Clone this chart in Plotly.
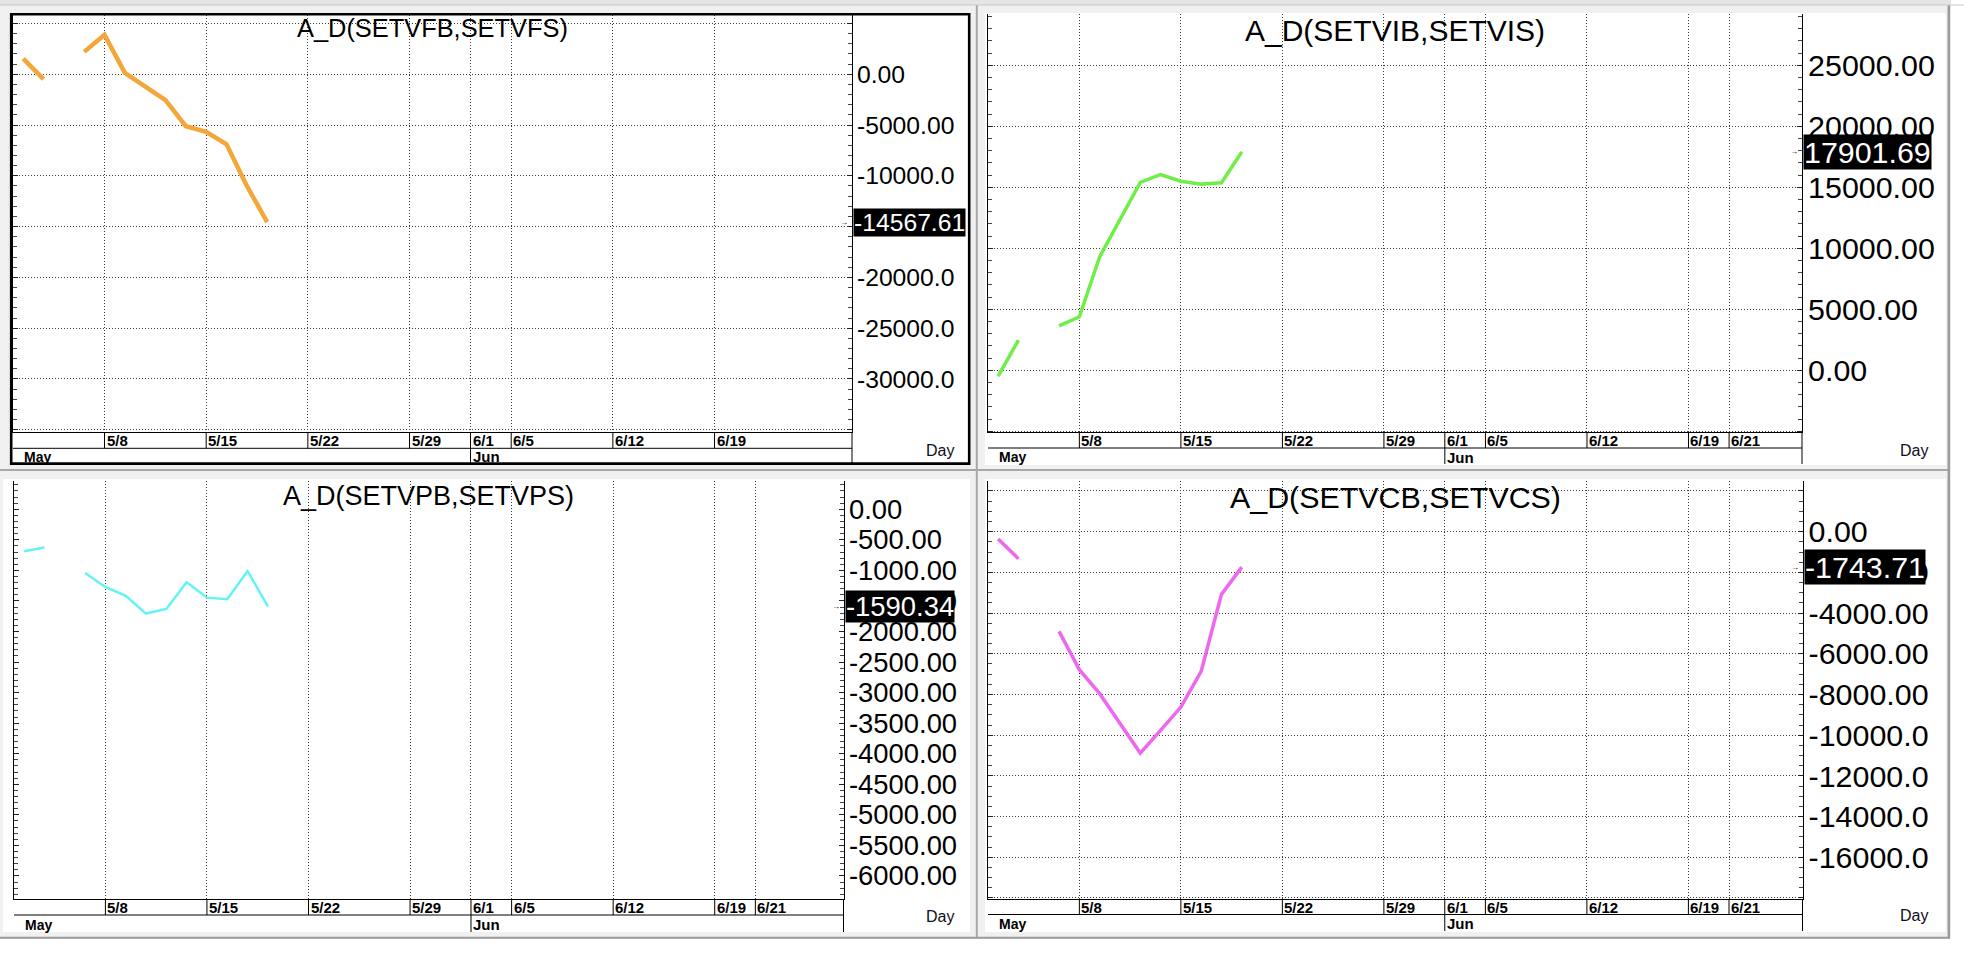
import plotly.graph_objects as go

# ---------------- data ----------------
dates = ["2023-05-02", "2023-05-03", "2023-05-04", "2023-05-05", "2023-05-08",
         "2023-05-09", "2023-05-10", "2023-05-11", "2023-05-12", "2023-05-15",
         "2023-05-16", "2023-05-17", "2023-05-18"]

ad_vf = [1540, -490, None, 2200, 3875, 130, -1180, -2560, -5120, -5680, -6900, -11000, -14567.61]
ad_vi = [-490, 2460, None, 3640, 4380, 9300, 12300, 15400, 16050, 15500, 15260, 15370, 17901.69]
ad_vp = [-687, -627, None, -1042, -1271, -1418, -1707, -1631, -1195, -1446, -1473, -1009, -1590.34]
ad_vc = [-360, -1330, None, -4900, -6780, -7960, -9430, -10880, -9760, -8620, -6860, -3080, -1743.71]

titles = ["A_D(SETVFB,SETVFS)", "A_D(SETVIB,SETVIS)", "A_D(SETVPB,SETVPS)", "A_D(SETVCB,SETVCS)"]
last_labels = ["-14567.61", "17901.69", "-1590.34", "-1743.71"]

p1_tickvals = [5000, 0, -5000, -10000, -15000, -20000, -25000, -30000, -35000]
p1_ticktext = ["", "0.00", "-5000.00", "-10000.0", "-15000.0", "-20000.0", "-25000.0", "-30000.0", ""]
p2_tickvals = [25000, 20000, 15000, 10000, 5000, 0, -5000]
p2_ticktext = ["25000.00", "20000.00", "15000.00", "10000.00", "5000.00", "0.00", ""]
p3_tickvals = [0, -500, -1000, -1500, -2000, -2500, -3000, -3500, -4000, -4500, -5000, -5500, -6000]
p3_ticktext = ["0.00", "-500.00", "-1000.00", "-1500.00", "-2000.00", "-2500.00", "-3000.00",
               "-3500.00", "-4000.00", "-4500.00", "-5000.00", "-5500.00", "-6000.00"]
p3_gridvals = [0, -1000, -2000, -3000, -4000, -5000, -6000]
p4_tickvals = [2000, 0, -2000, -4000, -6000, -8000, -10000, -12000, -14000, -16000, -18000]
p4_ticktext = ["", "0.00", "-2000.00", "-4000.00", "-6000.00", "-8000.00", "-10000.0",
               "-12000.0", "-14000.0", "-16000.0", ""]

day_ticks_a = ["2023-05-08", "2023-05-15", "2023-05-22", "2023-05-29", "2023-06-01",
               "2023-06-05", "2023-06-12", "2023-06-19"]
day_text_a = ["5/8", "5/15", "5/22", "5/29", "6/1", "6/5", "6/12", "6/19"]
day_ticks_b = day_ticks_a + ["2023-06-21"]
day_text_b = day_text_a + ["6/21"]
month_start = "2023-06-01"
month_names = ["May", "Jun"]

# ---------------- layout geometry ----------------
W, H = 1964, 954
def px(x): return x / W
def py(y): return 1 - y / H

FONT = "Liberation Sans, Arial, sans-serif"
DFONT = "Liberation Sans Narrow, Arial Narrow, Liberation Sans, Arial, sans-serif"
GRID = "#3a3a3a"
DOT = "1px,2px"

panels = [
    dict(series=ad_vf, color="#F3A73B", lw=4.5, x0=13, x1=852, yt=15.3, yb=432.3, r1=448.3, r2=463.3,
         xr=["2023-05-01 12:00", "2023-06-27 18:14"], yr=[-35250, 5800], fs=24.7, tfs=25.4, tty=28.0,
         tv=p1_tickvals, tt=p1_ticktext, minor=1000, dt=day_ticks_a, dx=day_text_a, day=(940, 450)),
    dict(series=ad_vi, color="#70EE48", lw=3.5, x0=988, x1=1802, yt=14.0, yb=432.3, r1=448.0, r2=464.0,
         xr=["2023-05-01 12:00", "2023-06-26 14:10"], yr=[-5090, 29210], fs=30.4, tfs=30.0, tty=30.2,
         tv=p2_tickvals, tt=p2_ticktext, minor=1000, dt=day_ticks_b, dx=day_text_b, day=(1914, 450)),
    dict(series=ad_vp, color="#62F4F4", lw=2.5, x0=14, x1=843.5, yt=481.0, yb=899.0, r1=915.0, r2=932.0,
         xr=["2023-05-01 12:00", "2023-06-27 08:10"], yr=[-6378, 463], fs=27.4, tfs=27.0, tty=495.8,
         tv=p3_tickvals, tt=p3_ticktext, minor=100, dt=day_ticks_b, dx=day_text_b, day=(940, 916)),
    dict(series=ad_vc, color="#EE68EE", lw=3.5, x0=988, x1=1802.5, yt=481.0, yb=899.0, r1=914.5, r2=931.0,
         xr=["2023-05-01 12:00", "2023-06-26 14:53"], yr=[-18050, 2490], fs=30.4, tfs=30.4, tty=497.2,
         tv=p4_tickvals, tt=p4_ticktext, minor=500, dt=day_ticks_b, dx=day_text_b, day=(1914, 915.5)),
]

fig = go.Figure()
layout = dict(width=W, height=H, margin=dict(l=0, r=0, t=0, b=0),
              paper_bgcolor="#f0f0f0", plot_bgcolor="white", showlegend=False)
shapes = []
annotations = []

# window backgrounds / frames
shapes += [
    dict(type="rect", xref="paper", yref="paper", x0=0, x1=1, y0=py(5), y1=1,
         fillcolor="#e4e4e4", line=dict(width=0), layer="below"),
    dict(type="rect", xref="paper", yref="paper", x0=0, x1=1, y0=0, y1=py(939),
         fillcolor="white", line=dict(width=0), layer="below"),
    dict(type="rect", xref="paper", yref="paper", x0=px(1951), x1=1, y0=0, y1=1,
         fillcolor="white", line=dict(width=0), layer="below"),
    dict(type="rect", xref="paper", yref="paper", x0=px(11), x1=px(969), y0=py(463.5), y1=py(14),
         fillcolor="white", line=dict(width=0), layer="below"),
    dict(type="rect", xref="paper", yref="paper", x0=px(985), x1=px(1946), y0=py(465), y1=py(13),
         fillcolor="white", line=dict(width=0), layer="below"),
    dict(type="rect", xref="paper", yref="paper", x0=px(3), x1=px(970), y0=py(932), y1=py(479),
         fillcolor="white", line=dict(width=0), layer="below"),
    dict(type="rect", xref="paper", yref="paper", x0=px(985), x1=px(1946), y0=py(932), y1=py(479),
         fillcolor="white", line=dict(width=0), layer="below"),
    # splitters
    dict(type="line", xref="paper", yref="paper", x0=px(976.8), x1=px(976.8), y0=py(938), y1=py(5),
         line=dict(color="#a8a8a8", width=2)),
    dict(type="line", xref="paper", yref="paper", x0=0, x1=px(1950), y0=py(470), y1=py(470),
         line=dict(color="#a8a8a8", width=2)),
    dict(type="line", xref="paper", yref="paper", x0=0, x1=px(1950), y0=py(937.8), y1=py(937.8),
         line=dict(color="#9a9a9a", width=2)),
    dict(type="line", xref="paper", yref="paper", x0=px(1948.8), x1=px(1948.8), y0=py(938), y1=py(5),
         line=dict(color="#9a9a9a", width=2.5)),
    dict(type="line", xref="paper", yref="paper", x0=0, x1=1, y0=py(5), y1=py(5),
         line=dict(color="#c8c8c8", width=1)),
    # active window black frame
    dict(type="rect", xref="paper", yref="paper", x0=px(11.2), x1=px(969.2), y0=py(463.6), y1=py(14.2),
         line=dict(color="black", width=2.6)),
]

for i, p in enumerate(panels, start=1):
    sfx = "" if i == 1 else str(i)
    xname, yname = "x" + sfx, "y" + sfx
    fig.add_trace(go.Scatter(x=dates, y=p["series"], mode="lines", xaxis=xname, yaxis=yname,
                             connectgaps=False, hoverinfo="skip",
                             line=dict(color=p["color"], width=p["lw"])))
    is_p3 = (i == 3)
    layout["xaxis" + sfx] = dict(
        domain=[px(p["x0"]), px(p["x1"])], anchor=yname, type="date",
        range=p["xr"], rangebreaks=[dict(bounds=["sat", "mon"])],
        tickmode="array", tickvals=p["dt"], showticklabels=False, ticks="",
        showgrid=True, gridcolor=GRID, griddash=DOT, gridwidth=1,
        showline=True, linecolor="black", linewidth=1, mirror=False, zeroline=False,
        fixedrange=True)
    layout["yaxis" + sfx] = dict(
        domain=[py(p["yb"]), py(p["yt"])], anchor=xname, side="right",
        range=p["yr"], tickmode="array", tickvals=p["tv"], ticktext=p["tt"],
        ticks="inside", ticklen=5, tickcolor="#222", tickwidth=1, ticklabelstandoff=-1,
        minor=dict(dtick=p["minor"], tick0=0, ticks="inside", ticklen=4, tickcolor="#444",
                   showgrid=False),
        showgrid=not is_p3, gridcolor=GRID, griddash=DOT, gridwidth=1,
        showline=True, linecolor="black", linewidth=1, mirror="ticks", zeroline=False,
        tickfont=dict(family=FONT, size=p["fs"], color="black"), fixedrange=True)
    if is_p3:
        layout["yaxis5"] = dict(
            overlaying="y3", anchor="x3", side="right", range=p["yr"],
            tickmode="array", tickvals=p3_gridvals, showticklabels=False, ticks="",
            showgrid=True, gridcolor=GRID, griddash=DOT, gridwidth=1,
            showline=False, zeroline=False, fixedrange=True)

    # title
    annotations.append(dict(text=titles[i - 1], xref=xname + " domain", x=0.5, xanchor="center",
                            yref="paper", y=py(p["tty"]), yanchor="middle", showarrow=False,
                            font=dict(family=FONT, size=p["tfs"], color="black")))
    # last value box
    annotations.append(dict(text=last_labels[i - 1], xref=xname + " domain", x=1, xanchor="left",
                            xshift=1, yref=yname, y=p["series"][-1], yanchor="middle",
                            showarrow=False, bgcolor="black", borderpad=0,
                            font=dict(family=FONT, size=p["fs"], color="white")))
    # tiny pointer left of the axis at the last value
    annotations.append(dict(text="→", xref=xname + " domain", x=1, xanchor="right", xshift=-2,
                            yref=yname, y=p["series"][-1], yanchor="middle", showarrow=False,
                            font=dict(family=FONT, size=8, color="black")))
    # "Day" label
    annotations.append(dict(text="Day", xref="paper", x=px(p["day"][0]), xanchor="center",
                            yref="paper", y=py(p["day"][1]), yanchor="middle", showarrow=False,
                            font=dict(family=FONT, size=16, color="#101020")))

    # date rows
    shapes.append(dict(type="line", xref="paper", yref="paper", x0=px(p["x0"]), x1=px(p["x1"]),
                       y0=py(p["r1"]), y1=py(p["r1"]), line=dict(color="black", width=1)))
    shapes.append(dict(type="line", xref="paper", yref="paper", x0=px(p["x1"]), x1=px(p["x1"]),
                       y0=py(p["r2"]), y1=py(p["yb"]), line=dict(color="black", width=1)))
    row1_y = py((p["yb"] + p["r1"]) / 2 + 0.5)
    row2_y = py((p["r1"] + p["r2"]) / 2 + 1)
    for d, t in zip(p["dt"], p["dx"]):
        bottom = p["r2"] if d == month_start else p["r1"]
        shapes.append(dict(type="line", xref=xname, yref="paper", x0=d, x1=d,
                           y0=py(bottom), y1=py(p["yb"]), line=dict(color="black", width=1)))
        annotations.append(dict(text="<b>" + t + "</b>", xref=xname, x=d, xanchor="left", xshift=0,
                                yref="paper", y=row1_y, yanchor="middle", showarrow=False,
                                font=dict(family=DFONT, size=15, color="black")))
    annotations.append(dict(text="<b>" + month_names[0] + "</b>", xref=xname + " domain", x=0,
                            xanchor="left", xshift=9, yref="paper", y=row2_y, yanchor="middle",
                            showarrow=False, font=dict(family=FONT, size=14, color="black")))
    annotations.append(dict(text="<b>" + month_names[1] + "</b>", xref=xname, x=month_start,
                            xanchor="left", xshift=0, yref="paper", y=row2_y, yanchor="middle",
                            showarrow=False, font=dict(family=DFONT, size=15, color="black")))

layout["shapes"] = shapes
layout["annotations"] = annotations
fig.update_layout(**layout)
fig.write_html("out.html", config={"displayModeBar": False},
               post_script="document.body.style.margin='0';document.body.style.overflow='hidden';")
